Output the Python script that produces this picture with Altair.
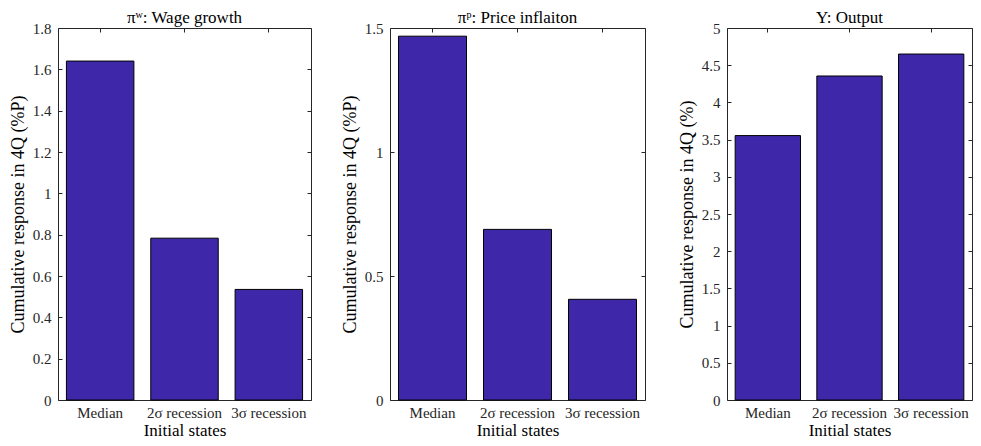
import altair as alt
import pandas as pd

FONT = "Liberation Serif"
BAR_COLOR = "#3E28A9"
FRAME_COLOR = "#262626"

states = ["Median", "2σ recession", "3σ recession"]

wage_growth = [1.64, 0.783, 0.535]
price_inflation = [1.467, 0.688, 0.406]
output = [3.554, 4.355, 4.65]

wage_ticks = [0, 0.2, 0.4, 0.6, 0.8, 1, 1.2, 1.4, 1.6, 1.8]
price_ticks = [0, 0.5, 1, 1.5]
output_ticks = [0, 0.5, 1, 1.5, 2, 2.5, 3, 3.5, 4, 4.5, 5]


def panel(values, ticks, ymax, title, ytitle, width):
    df = pd.DataFrame({"state": states, "value": values})
    xscale = alt.Scale(paddingInner=0.2, paddingOuter=0.1)
    yscale = alt.Scale(domain=[0, ymax], nice=False, zero=True)

    bars = alt.Chart(df).mark_bar(
        color=BAR_COLOR, stroke="black", strokeWidth=1
    ).encode(
        x=alt.X(
            "state:N", sort=states, scale=xscale, title="Initial states",
            axis=alt.Axis(orient="bottom", labelAngle=0, offset=-4, tickSize=4,
                          domain=False, labelPadding=5, titlePadding=2)
        ),
        y=alt.Y(
            "value:Q", scale=yscale, title=ytitle,
            axis=alt.Axis(orient="left", values=ticks, format="~g", offset=-4,
                          tickSize=4, domain=False, grid=False,
                          labelPadding=7, titlePadding=5, titleFontSize=18)
        ),
    )

    # mirrored inner ticks on the top and right edges (MATLAB box style)
    mirror = alt.Chart(df).mark_bar(opacity=0).encode(
        x=alt.X(
            "state:N", sort=states, scale=xscale, title=None,
            axis=alt.Axis(orient="top", labels=False, offset=-4, tickSize=4,
                          domain=False)
        ),
        y=alt.Y(
            "value:Q", scale=yscale, title=None,
            axis=alt.Axis(orient="right", values=ticks, labels=False,
                          offset=-4, tickSize=4, domain=False, grid=False)
        ),
    )

    return alt.layer(bars, mirror).resolve_axis(
        x="independent", y="independent"
    ).properties(
        width=width,
        height=372,
        title=alt.TitleParams(text=title, fontSize=17, font=FONT,
                              fontWeight="normal", offset=-6, color="black"),
    )


p1 = panel(wage_growth, wage_ticks, 1.8, "πʷ: Wage growth",
           "Cumulative response in 4Q (%P)", 253)
p2 = panel(price_inflation, price_ticks, 1.5, "πᵖ: Price inflaiton",
           "Cumulative response in 4Q (%P)", 255)
p3 = panel(output, output_ticks, 5, "Y: Output",
           "Cumulative response in 4Q (%)", 245)

left_pair = alt.hconcat(p1, p2, spacing=28)

chart = alt.hconcat(left_pair, p3, spacing=31).properties(
    padding=0
).configure_view(
    stroke=FRAME_COLOR, strokeWidth=1
).configure_axis(
    labelFont=FONT, titleFont=FONT, labelFontSize=15, titleFontSize=17,
    titleFontWeight="normal", labelColor=FRAME_COLOR, titleColor="black",
    tickColor=FRAME_COLOR
)

chart.save("out.html", embed_options={"renderer": "svg", "actions": False})
